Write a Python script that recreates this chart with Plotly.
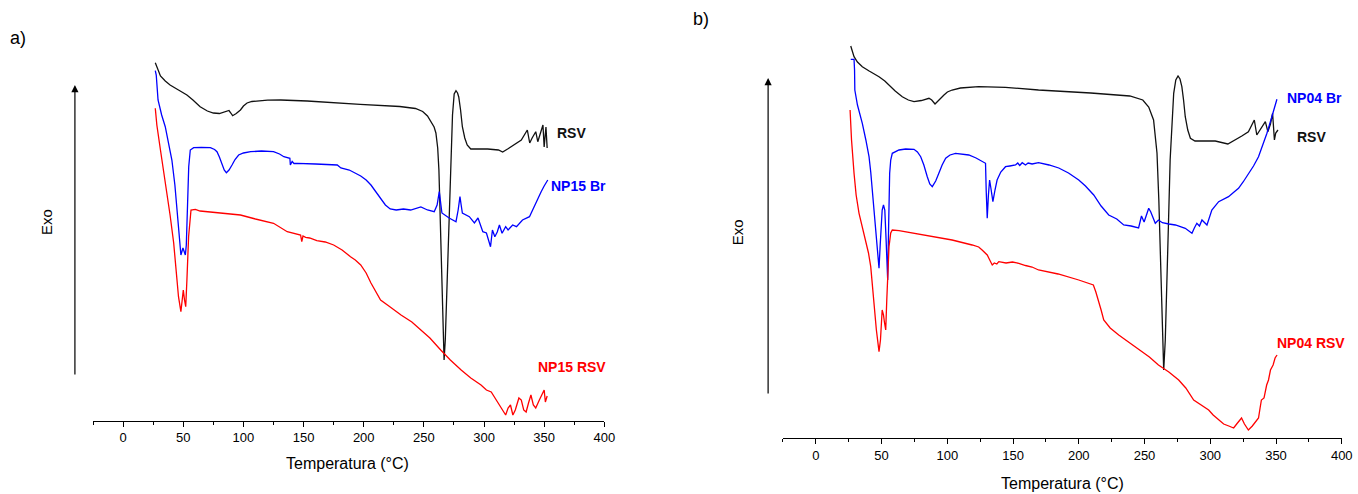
import plotly.graph_objects as go

# ---------------- data (signal in arbitrary units, endo = larger) -------------
# Panel a)
a_rsv_T = [26.7,28,31,35,39,46,53,58,64,70,75,80,84,88,89.5,91,94,97.5,100,103,107,111,120,131,153,197,230,243,249,253,256,258.5,260,261.5,262.5,263.5,264.7,265.7,266.8,267.8,268.8,269.7,271,272.5,273.8,275.2,276.7,278,279,280.5,282,284,286,289,303,312,315.5,319.6,325,331,336,338,340,343,344.7,347,349,350,351.5,352.5]
a_rsv_S = [62.7,67,76,81,85,90,95,100,106.7,111,113,113.5,112.3,110.5,113,115.7,113.5,110,106,103,101.5,101,100.2,100,101,104.3,106.5,108.5,111.5,116,121.7,127,133,148,170,215,262,330,360,340,300,260,205,160,115,94,90.7,93,97,110,126.7,138,145,149,149,150,152,149,145,140,130,143,138,131.7,141.7,133,125,147,127,148]

a_br_T = [26.7,27.5,29,32,35,38,40.5,43,44.7,46.5,48,49.7,50.8,51.7,52.5,53,53.8,54.5,55.8,58.6,65,72.5,76,78,80,82,84,85.8,88,90.5,93,96,100,106,115,125,130,133.6,138.6,139,140.5,142,144.7,160,178,181,188,197.5,202,206,212,218,222,227,233,239,247.5,253,258.6,261,262.8,263.8,265,271,276.7,278.5,280,281,282,287.8,290,292,295,297,299,302,303.5,305.4,307,309,311,312.8,315,318,320,323.8,327,332,337.8,341,343.3,347.5,350,353]
a_br_S = [70.7,75,100,115,126.7,145,160,185,210,235,255,248,253,255,245,230,195,166.7,150,147.7,147.3,147.7,149.5,151.7,157,163.3,170,172.7,170,165,159.5,155,153,151.7,151,151.7,154,156.7,158.3,165,161.5,163.5,163.3,164,165,168,170,176,180,185,195,205,209,210,209,210,207,210,211.7,205,191.7,205,213,218,221.7,210,196.7,205,213,216.7,220,223,218,225,231.7,233,240,246.7,230,236.7,232,225,233.3,226.7,230,225,226.7,220,216.7,208,201.7,191.7,186,180]

a_np_T = [26.7,28,31,33.5,36.4,39,42,44,46,48,49,50,51,52,53,54.4,56.4,60,64,80,97.5,110,125,136.4,145,147.5,148.5,149.5,151.7,155,161,168,175,182,189,193,197.5,202,206,210,214,222,231,240,247.5,255,264,272,281,289,297.5,302,306,310,314,318,320,322,324,326,329,331,333,335,337,339,341,343,346,348,350,351,352.5]
a_np_S = [108.3,125,150,170,193,215,243,270,296.7,311.7,303,290,300,306.7,280,236.7,210,209.3,211,213,215,219,223.3,231.7,234,235,241.7,236,237.3,238,240.7,242,245,250,256.7,260,265,273,283,292,300,307,315,322,330,338,350,360,370,378,385,390,392,400,408,415,408,405,415,410,398,400,410,412,403,395,405,408,400,395,390,402,396]

# Panel b)
b_rsv_T = [26.6,27.7,29.1,31.7,35.4,40.6,48.1,52.5,55.7,60.4,65.8,70.4,74.7,80.3,86.1,88.2,90.7,93.1,97.5,100.1,103.7,110.0,123.9,144.3,169.4,209.1,238.8,248.7,253.2,256.9,259.5,260.9,262.1,263.4,264.6,265.8,267.0,268.3,269.5,270.9,272.2,273.8,275.5,277.0,278.4,279.7,281.0,282.9,284.9,288.4,303.8,313.4,319.1,324.0,329.0,333.5,335.4,337.9,341.9,343.8,345.8,347.4,348.8,349.8,351.5]
b_rsv_S = [46,52,56.7,62,66.7,71,76.7,81,85,91,96.7,100,101.7,100.5,98.3,100,104,100.5,95,92,90,88,86.7,87.3,90,93,96,100,107,120,153,200,260,320,370,340,293,220,160,120,93.3,80,76,79,86.7,100,116.7,130,138.3,141,141,144,140,136,131.7,120,135,130,121.7,131.7,124,113.3,140,133,130]

b_br_T = [26.6,29.1,29.5,29.7,31.7,35.4,38.1,40.5,41.8,43.0,44.3,45.6,46.9,48.1,49.0,49.7,50.5,51.5,52.5,53.5,54.7,55.5,56.2,57.0,58.2,63.3,68.4,74.7,77.3,79.8,82.2,84.8,86.7,88.6,91.2,93.6,96.1,98.8,102.1,106.3,116.4,121.9,126.5,129.1,129.6,130.4,131.3,132.2,133.4,134.7,136.3,137.9,140.7,144.3,147.6,151.9,153.6,155.1,157.0,159.5,161.5,164.5,169.4,177.4,184.8,192.2,200.0,205.1,211.4,217.0,222.8,228.9,234.2,239.8,245.5,247.7,249.7,253.2,254.7,258.2,260.6,263.6,268.5,273.5,281.0,283.4,286.1,287.9,289.8,291.8,293.7,297.5,299.3,301.2,306.4,310.2,313.9,318.1,321.5,325.0,329.2,332.9,336.7,339.9,343.1,346.8,350.7]
b_br_S = [59.3,59.3,70,90,105,123.3,140,156.7,172,190,208,226.7,250,268.3,245,220,210,205,210,240,280,220,173.3,160,153.3,150,149,149.3,152,156.7,165,176.7,184,186.7,181,173.3,165,158.3,155,153.3,155,158,161.7,163.3,190,218.3,195,180,190,201.7,190,180,172,166.7,166,165,163,165.5,162.7,165,163,164,162.7,165,168,173,180,186,195,206,215,219,225,226,228,216,222,208.3,211.7,223.3,220,222.7,224,225,228.3,231,233.3,228,223.3,226,220,225,217,210,201.7,199,196.7,192,188.3,182,173.3,166,156.7,146,133.3,117,99.3]

b_np_T = [26.1,27.2,29.1,30.7,32.9,35.7,38.0,40.1,41.8,43.1,44.3,46.1,48.1,49.2,50.5,51.5,52.2,53.2,54.0,54.8,55.7,57.0,58.2,63.3,78.5,90.2,103.7,118.9,123.9,126.5,128.3,130.4,132.3,134.2,135.8,137.7,139.2,144.7,149.6,154.4,159.5,164.5,169.4,184.3,200.0,205.1,211.1,213.0,215.0,217.0,219.0,223.9,230.4,236.8,245.5,253.7,260.6,268.5,276.0,281.4,287.4,293.3,298.8,302.2,306.2,310.2,314.1,317.8,320.1,323.8,326.0,329.0,332.0,336.7,337.9,338.9,340.9,342.9,344.3,345.8,347.8,349.3,350.8]
b_np_S = [110,140,173.3,195,213.3,228,240,253,266.7,285,306.7,330,351.7,340,310,315,322,330,300,270,246.7,233,230,230.7,234,237,240,245,247,250,252,255,260,265,263,264,261.7,263,262,263.3,265.5,267,270,274,280,282,285,292,300,310,320,328,335,341,350,357,365,372,380,388,400,405,410,415,420,424,426,428,424,418,424,430,426,418,408,400,398,385,380,370,365,358,355]

x_ticks = [0, 50, 100, 150, 200, 250, 300, 350, 400]

# ---------------- figure ----------------
W, H = 1358, 494
KX = 1.007  # small horizontal compensation observed in the rendered page
FONT = "Arial, Liberation Sans, sans-serif"
BLACK, BLUE, RED = "#111111", "#0000ff", "#ff0000"

fig = go.Figure()
series = [
    (a_rsv_T, a_rsv_S, BLACK, "x", "y"),
    (a_br_T, a_br_S, BLUE, "x", "y"),
    (a_np_T, a_np_S, RED, "x", "y"),
    (b_rsv_T, b_rsv_S, BLACK, "x2", "y2"),
    (b_br_T, b_br_S, BLUE, "x2", "y2"),
    (b_np_T, b_np_S, RED, "x2", "y2"),
]
for T, S, c, xa, ya in series:
    fig.add_trace(go.Scatter(x=T, y=S, mode="lines", line=dict(color=c, width=1.3),
                             xaxis=xa, yaxis=ya, showlegend=False, hoverinfo="skip"))

def px_x(p):
    return min(1.0, p * KX / W)

def px_y(p):
    return (H - p) / H

xcommon = dict(range=[-25, 400], showline=True, linecolor="black", linewidth=1.2,
               ticks="outside", ticklen=5, tickwidth=1.2, tickcolor="black",
               tickvals=x_ticks, showgrid=False, zeroline=False,
               tickfont=dict(family=FONT, size=13, color="black"),
               minor=dict(ticks="outside", ticklen=3, tickwidth=1.2, tickcolor="black",
                          dtick=25, tick0=-25, showgrid=False))
ycommon = dict(showline=False, showticklabels=False, ticks="", showgrid=False, zeroline=False)

fig.update_layout(
    width=W, height=H, margin=dict(l=0, r=0, t=0, b=0),
    paper_bgcolor="white", plot_bgcolor="white",
    xaxis=dict(domain=[px_x(93.2), px_x(605)], anchor="y", **xcommon),
    yaxis=dict(domain=[px_y(420.7), px_y(40)], range=[420.7, 40], anchor="x", **ycommon),
    xaxis2=dict(domain=[px_x(783.8), px_x(1343.3)], anchor="y2", **xcommon),
    yaxis2=dict(domain=[px_y(438.3), px_y(40)], range=[438.3, 40], anchor="x2", **ycommon),
)

def ann(x, y, text, size, color="black", bold=False, xanchor="left", angle=0):
    t = f"<b>{text}</b>" if bold else text
    fig.add_annotation(x=px_x(x), y=px_y(y), xref="paper", yref="paper", text=t,
                       showarrow=False, xanchor=xanchor, yanchor="middle", textangle=angle,
                       font=dict(family=FONT, size=size, color=color))

# panel letters
ann(8, 38, "a)", 18)
ann(692, 19, "b)", 18)
# axis titles
ann(348, 463, "Temperatura (°C)", 16, xanchor="center")
ann(1064, 483, "Temperatura (°C)", 16, xanchor="center")
ann(46, 222, "Exo", 15, xanchor="center", angle=-90)
ann(738, 232, "Exo", 15, xanchor="center", angle=-90)
# curve labels
ann(556, 133, "RSV", 14, BLACK, True)
ann(550, 186, "NP15 Br", 14, BLUE, True)
ann(537, 367, "NP15 RSV", 14, RED, True)
ann(1286, 98, "NP04 Br", 14, BLUE, True)
ann(1296, 137, "RSV", 14, BLACK, True)
ann(1276, 343, "NP04 RSV", 14, RED, True)

# "Exo" arrows
for xa, ytop, ybot in [(75, 85, 376), (769, 78, 395)]:
    fig.add_annotation(x=px_x(xa), y=px_y(ytop), xref="paper", yref="paper", text="",
                       showarrow=True, axref="pixel", ayref="pixel", ax=0, ay=ybot - ytop,
                       arrowhead=2, arrowsize=1.2, arrowwidth=1.2, arrowcolor="black")

fig.write_html("out.html")
